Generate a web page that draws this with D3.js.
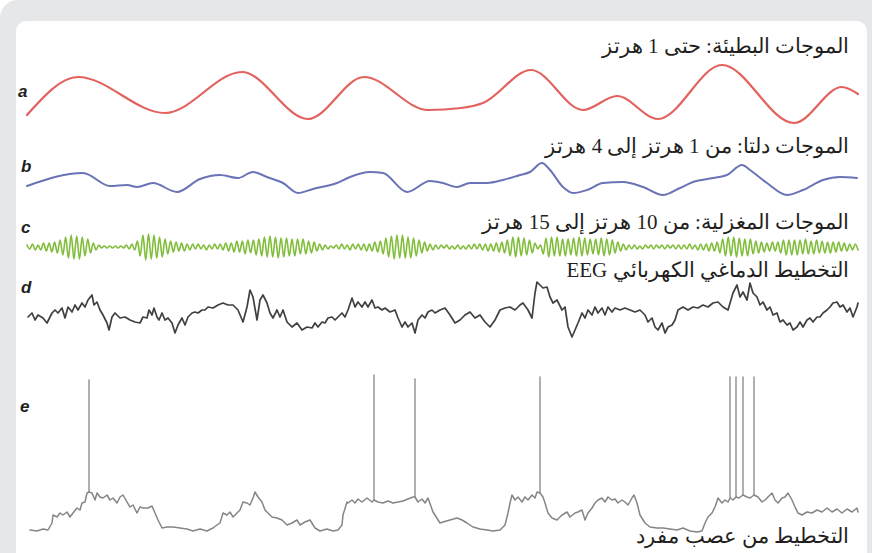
<!DOCTYPE html>
<html>
<head>
<meta charset="utf-8">
<script src="https://cdn.jsdelivr.net/npm/d3@7"></script>
<style>
  html, body { margin: 0; padding: 0; background: #ffffff; }
  svg { display: block; }
</style>
</head>
<body>
<svg id="chart" width="872" height="553"></svg>
<script>
// Recording time in samples (0 … 831) shared by all five traces.
const timeDomain = [0, 831];

// a — slow oscillation (< 1 Hz): [sample, amplitude]
const slowWave = [[0,-20],[51,18],[138,-18],[215,23],[281,-24],[337,18],[401,-15],[434,-13],[456,-8],
  [504,25],[556,-15],[590,-1],[631,-24],[695,30],[767,-28],[815,8],[831,1]];

// b — delta waves (1–4 Hz)
const deltaWave = [[0,-3],[56,10],[83,-3],[100,-2],[110,-4],[126,0],[150,-9],[173,4],[193,8],[211,5],
  [226,11],[240,6],[256,0],[271,-10],[286,-6],[310,0],[323,6],[343,11],[356,10],[380,-9],[403,2],
  [416,0],[430,-4],[443,0],[460,0],[476,3],[493,8],[503,11],[515,20],[523,13],[536,-4],[546,-10],
  [560,-7],[576,0],[596,1],[616,-4],[636,-12],[653,-5],[666,1],[686,5],[700,8],[715,18],[723,13],
  [740,0],[760,-12],[776,-7],[796,3],[813,6],[830,5]];

// c — sleep spindles (10–15 Hz): successive half-cycle extremes, evenly spaced in time
const spindleWave = [
  2,-2,3,-3,2,-3,4,-4,4,-5,5,-6,7,-8,
  10,-11,12,-12,11,-12,10,-9,8,-6,4,-3,
  2,-1,1,-1,1,-1,1,-1,1,-1,2,-2,3,-3,
  6,-9,12,-13,13,-12,12,-11,10,-10,8,-7,6,-5,
  5,-4,4,-4,3,-3,3,-2,3,-2,2,-3,2,-2,3,-2,3,-3,4,-4,
  4,-5,6,-5,6,-7,7,-6,7,-8,8,-9,
  10,-10,11,-10,10,-11,9,-10,9,-9,8,-9,8,-7,8,-7,6,-6,5,
  -4,3,-3,2,-2,1,-1,2,
  -2,3,-2,2,-3,3,-2,3,-3,3,-4,3,-4,5,-5,6,
  -7,9,-10,11,-12,12,-11,12,-11,10,-11,9,-9,7,-6,5,
  -4,3,-3,2,-2,2,-1,2,-2,1,-2,2,-2,1,-2,2,
  -2,3,-2,3,-3,3,-4,3,-4,4,-5,5,-6,
  7,-9,10,-10,10,-9,9,-8,7,-6,4,
  -2,2,
  -7,9,-10,10,-9,10,-9,8,-9,8,-8,9,-9,10,-9,9,-8,8,-7,8,-8,9,-9,8,-8,7,-6,
  5,-4,3,-3,2,-2,2,
  -2,1,-2,2,-1,2,-2,2,-1,2,-2,2,-1,2,-2,2,-2,2,-2,3,-2,2,-3,3,-3,3,-4,4,-4,5,
  -6,8,-9,10,-9,10,-10,9,-9,8,-9,8,-7,6,-6,
  5,-5,4,-4,5,-4,
  5,-6,7,-8,7,-8,7,-8,7,-7,8,-7,6,-7,7,-6,6,-6,5,-6,5,-5,5,-4,4,-4,3,-3,3,-3
];

// d — scalp EEG
const eegWave = [[1,-2],[5,2],[8,-5],[11,0],[16,-3],[20,-8],[25,2],[28,5],[31,2],[35,7],
  [38,-3],[41,8],[45,3],[48,10],[51,5],[55,12],[58,8],[61,15],[65,20],[67,10],
  [70,13],[73,5],[76,0],[80,-8],[82,-15],[85,-2],[88,2],[93,-3],[98,-2],[103,-5],
  [108,-7],[113,-8],[116,-2],[120,-3],[122,5],[125,0],[127,7],[130,-2],[132,-5],[135,2],
  [138,-5],[141,-3],[145,-8],[148,-18],[151,-10],[155,-3],[158,-10],[161,-2],[165,2],[168,3],
  [171,2],[175,5],[178,5],[181,8],[186,7],[191,10],[196,12],[201,10],[206,10],[211,5],
  [216,-7],[220,8],[223,25],[226,18],[230,-5],[233,15],[236,20],[240,12],[243,2],[246,-3],
  [250,5],[253,-2],[256,5],[260,-7],[265,-12],[270,-8],[275,-15],[280,-12],[285,-13],[288,-8],
  [291,-12],[295,-7],[298,-8],[301,-3],[305,-2],[308,-5],[311,-2],[315,2],[318,-2],[321,5],
  [325,17],[328,8],[331,13],[335,8],[338,13],[341,8],[345,15],[348,7],[351,8],[355,5],
  [358,7],[363,3],[368,5],[371,-3],[375,-12],[378,-7],[381,-12],[385,-8],[388,-18],[391,-5],
  [395,0],[398,-3],[401,3],[405,5],[408,2],[413,5],
  [418,7],[423,0],[428,-8],[433,-5],[438,0],[443,3],[448,-3],[453,0],[458,-7],[463,-12],
  [468,-5],[473,5],[478,7],[483,8],[488,5],[493,10],[496,12],[501,5],[505,-3],[508,22],
  [510,33],[513,30],[516,27],[520,28],[523,18],[526,12],[530,15],[535,5],[538,8],[541,-12],
  [545,-22],[548,-15],[551,-8],[555,2],[558,-3],[561,5],[565,0],[568,8],[571,2],[575,7],
  [578,0],[581,8],[585,3],[588,7],[593,5],[598,7],[603,5],[608,3],[613,5],[618,0],
  [621,-7],[625,-3],[628,-12],[631,-15],[635,-8],[638,-18],[641,-12],[645,-10],[648,-5],[651,5],
  [656,8],[661,5],[666,8],[671,7],[676,10],[681,8],[686,12],[691,13],[696,8],[701,5],
  [706,22],[710,30],[713,18],[716,23],[720,15],[723,32],[726,22],[730,18],[733,10],[736,13],
  [740,5],[743,8],[746,0],[750,2],[753,-7],[756,-5],[760,-10],[763,-8],[766,-15],[770,-12],
  [773,-7],[776,-12],[780,-5],[783,-3],[786,-7],[790,-2],[793,-2],[796,2],[800,5],[803,8],
  [806,12],[810,13],[813,8],[816,10],[820,3],[823,7],[826,-2],[830,8],[831,12]];

// e — single-neuron membrane potential (up/down states)
const unitWave = [[3,0],[10,-1],[16,1],[21,0],[25,7],[26,15],[30,13],[33,17],[36,15],[40,18],
  [43,13],[46,17],[50,22],[53,20],[55,27],[58,28],[60,37],[62,38],[65,37],[68,30],[70,37],[73,33],
  [76,32],[80,35],[83,30],[86,32],[90,27],[93,33],[96,35],[100,28],[103,23],[106,25],[110,17],[113,23],
  [116,22],[121,22],[125,24],[128,17],[131,10],[135,2],[140,3],[146,3],[153,2],[160,1],[166,-1],[173,1],
  [180,-1],[186,2],[190,5],[193,7],[196,17],[200,15],[203,18],[206,13],[210,17],[213,20],[216,28],
  [220,27],[223,25],[226,32],[228,38],[231,33],[235,28],[238,20],[241,17],[245,13],[250,12],[255,10],
  [260,5],[265,7],[270,10],[273,5],[278,8],[283,10],[288,2],[293,-1],[300,1],[306,-1],[311,0],[315,5],
  [316,15],[320,28],[321,27],[325,30],[328,27],[331,31],[335,28],[340,32],[345,28],[347,30],[351,28],
  [356,27],[361,29],[366,27],[371,28],[376,29],[381,31],[386,33],[388,33],[391,28],[395,31],[398,27],
  [401,32],[406,18],[413,7],[416,8],[423,10],[430,12],[435,10],[440,7],[446,3],[453,1],[460,0],
  [466,-1],[473,0],[478,5],[481,17],[483,27],[485,35],[488,30],[491,33],[495,28],[498,33],[501,30],
  [505,35],[508,32],[510,38],[513,37],[516,33],[518,27],[521,17],[525,12],[530,10],[535,15],[540,18],
  [543,13],[548,17],[551,18],[555,20],[558,10],[561,17],[565,22],[568,27],[571,30],[575,32],[578,28],
  [581,33],[585,30],[588,31],[591,27],[595,30],[598,28],[601,25],[605,32],[607,35],[610,27],[613,15],
  [618,7],[623,3],[630,2],[636,2],[643,1],[650,0],[656,2],[663,-1],[670,-2],[675,-1],[678,7],[681,13],
  [685,17],[688,23],[691,32],[695,27],[698,30],[701,28],[703,32],[706,30],[709,33],[712,32],[716,35],
  [720,33],[723,32],[727,35],[731,33],[735,28],[738,30],[741,33],[745,37],[748,30],[751,27],[755,32],
  [758,33],[761,37],[765,30],[768,23],[771,17],[775,15],[780,18],[785,17],[790,20],[795,18],[800,22],
  [805,18],[810,21],[815,17],[820,21],[825,18],[830,22],[831,18]];

// action potentials fired by the neuron: [sample, peak amplitude]
const unitSpikes = [[62,150],[347,155],[388,151],[513,153],[703,153],[709,153],[716,153],[727,153]];

// panel letters and captions (Arabic)
const panelLetters = ["a", "b", "c", "d", "e"];
const captions = [
  "الموجات البطيئة: حتى 1 هرتز",
  "الموجات دلتا: من 1 هرتز إلى 4 هرتز",
  "الموجات المغزلية: من 10 هرتز إلى 15 هرتز",
  "التخطيط الدماغي الكهربائي EEG",
  "التخطيط من عصب مفرد"
];

const svg = d3.select("#chart");

// frame
svg.append("rect").attr("x", 0).attr("y", 0).attr("width", 900).attr("height", 600)
  .attr("rx", 18).attr("fill", "#e6e7e8");
svg.append("rect").attr("x", 16).attr("y", 21).attr("width", 851).attr("height", 600)
  .attr("rx", 10).attr("fill", "#ffffff");

const x = d3.scaleLinear().domain(timeDomain).range([27, 858]);

// one vertical scale per trace (each trace sits in its own band)
const yA = d3.scaleLinear().domain([-30, 35]).range([125, 60]);
const yB = d3.scaleLinear().domain([-15, 25]).range([198, 158]);
const yC = d3.scaleLinear().domain([-15, 15]).range([262, 232]);
const yD = d3.scaleLinear().domain([-25, 35]).range([340, 280]);
const yE = d3.scaleLinear().domain([-5, 160]).range([535, 370]);

const g = svg.append("g").attr("fill", "none").attr("stroke-linejoin", "round").attr("stroke-linecap", "round");

g.append("path").datum(slowWave)
  .attr("d", d3.line().x(d => x(d[0])).y(d => yA(d[1])).curve(d3.curveMonotoneX))
  .attr("stroke", "#e2625e").attr("stroke-width", 2.2);

g.append("path").datum(deltaWave)
  .attr("d", d3.line().x(d => x(d[0])).y(d => yB(d[1])).curve(d3.curveMonotoneX))
  .attr("stroke", "#6a73b6").attr("stroke-width", 2);

const xSpindle = d3.scaleLinear().domain([0, spindleWave.length - 1]).range(x.range());
g.append("path").datum(spindleWave)
  .attr("d", d3.line().x((d, i) => xSpindle(i)).y(d => yC(d)).curve(d3.curveMonotoneX))
  .attr("stroke", "#80bd3a").attr("stroke-width", 1.6);

g.append("path").datum(eegWave)
  .attr("d", d3.line().x(d => x(d[0])).y(d => yD(d[1])))
  .attr("stroke", "#404040").attr("stroke-width", 1.7);

g.append("path").datum(unitWave)
  .attr("d", d3.line().x(d => x(d[0])).y(d => yE(d[1])))
  .attr("stroke", "#858588").attr("stroke-width", 1.5);

g.selectAll("line.spike").data(unitSpikes).join("line")
  .attr("class", "spike")
  .attr("x1", d => x(d[0])).attr("x2", d => x(d[0]))
  .attr("y1", d => yE(unitWave.find(p => p[0] === d[0])[1]))
  .attr("y2", d => yE(d[1]))
  .attr("stroke", "#858588").attr("stroke-width", 1.3);

// panel letters
const letterPos = [[18, 97], [21, 172], [21, 233], [21, 293], [20, 412]];
svg.selectAll("text.letter").data(panelLetters).join("text")
  .attr("class", "letter")
  .attr("x", (d, i) => letterPos[i][0]).attr("y", (d, i) => letterPos[i][1])
  .attr("font-family", "Liberation Sans, Arial, sans-serif")
  .attr("font-weight", "bold").attr("font-style", "italic").attr("font-size", 17)
  .attr("fill", "#231f20")
  .text(d => d);

// captions, right aligned, right-to-left
const captionY = [53, 153, 229, 277, 543];
svg.selectAll("text.caption").data(captions).join("text")
  .attr("class", "caption")
  .attr("x", 849).attr("y", (d, i) => captionY[i])
  .attr("direction", "rtl")
  .style("direction", "rtl")
  .attr("text-anchor", "start")
  .attr("font-family", "Liberation Serif, DejaVu Serif, serif")
  .attr("font-size", 21)
  .attr("fill", "#231f20")
  .text(d => d);
</script>
</body>
</html>
